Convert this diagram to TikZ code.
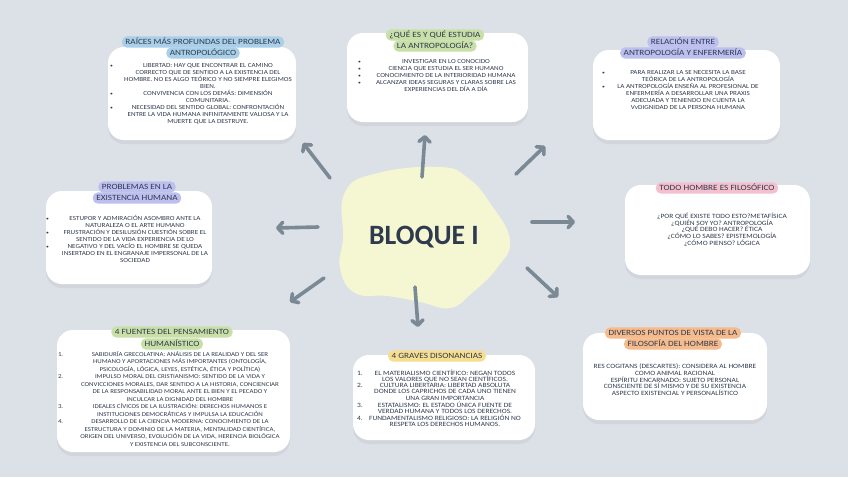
\documentclass[tikz,border=0pt]{standalone}
\usepackage{fontspec}
\usepackage{array}
\setmainfont{Carlito}[FakeStretch=1.15]
\usetikzlibrary{arrows.meta,shadows}
\definecolor{bg}{HTML}{DCE0E7}
\definecolor{ink}{HTML}{2F3A4F}
\definecolor{arrowc}{HTML}{7B8995}
\definecolor{blobc}{HTML}{F5F7D3}
\definecolor{lblue}{HTML}{A9D0E8}
\definecolor{lgreen}{HTML}{C8E0A8}
\definecolor{lpurple}{HTML}{BDBFEE}
\definecolor{lpink}{HTML}{F4C0CD}
\definecolor{lyellow}{HTML}{F6DE8E}
\definecolor{lorange}{HTML}{F6BB8C}
\newcommand{\bfnt}{\fontsize{6.2}{6.8}\selectfont}
\newcommand{\bul}{\raisebox{0.3pt}{\scalebox{0.8}{•}}}
\newcommand{\nl}{\par}
\tikzset{
  card/.style={fill=white, rounded corners=16pt, inner sep=0pt,
    drop shadow={opacity=0.10, shadow xshift=0pt, shadow yshift=-4pt}},
  pill/.style={fill=#1, rounded corners=5pt, inner xsep=3.5pt, inner ysep=2pt,
    text height=5.8pt, text depth=1.4pt, text=ink, font=\fontsize{8}{9}\selectfont},
  body/.style={anchor=north, inner sep=0pt, text=ink, font=\bfnt},
  ray/.style={draw=arrowc, line width=3.6pt, line cap=round,
    -{Straight Barb[length=5pt,width=11pt,round]}}
}
\begin{document}
\begin{tikzpicture}[x=1pt,y=-1pt]
\fill[bg] (0,0) rectangle (848,477);
\useasboundingbox (0,0) rectangle (848,477);

% cards
\node[card, minimum width=188pt, minimum height=93pt] (c1) at (202,93.5) {};
\node[card, minimum width=181pt, minimum height=89pt] (c2) at (437.5,77.5) {};
\node[card, minimum width=187pt, minimum height=90pt] (c3) at (686.5,95) {};
\node[card, minimum width=166pt, minimum height=93pt] (c4) at (129,237.5) {};
\node[card, minimum width=185pt, minimum height=90pt] (c5) at (717.5,230) {};
\node[card, minimum width=233pt, minimum height=122pt] (c6) at (173.5,391) {};
\node[card, minimum width=182pt, minimum height=85pt] (c7) at (444,397.5) {};
\node[card, minimum width=184pt, minimum height=87pt] (c8) at (675,376.5) {};

% labels
\node[pill=lblue] (l1a) at (203,42) {RAÍCES MÁS PROFUNDAS DEL PROBLEMA};
\node[pill=lblue] (l1b) at (203,53) {ANTROPOLÓGICO};
\node[pill=lgreen] (l2a) at (435,35) {¿QUÉ ES Y QUÉ ESTUDIA};
\node[pill=lgreen] (l2b) at (435,46) {LA ANTROPOLOGÍA?};
\node[pill=lpurple] (l3a) at (683,42) {RELACIÓN ENTRE};
\node[pill=lpurple] (l3b) at (683,53) {ANTROPOLOGÍA Y ENFERMERÍA};
\node[pill=lpurple] (l4a) at (137,187) {PROBLEMAS EN LA};
\node[pill=lpurple] (l4b) at (137,198) {EXISTENCIA HUMANA};
\node[pill=lpink] (l5) at (717,188) {TODO HOMBRE ES FILOSÓFICO};
\node[pill=lgreen] (l6a) at (172,332) {4 FUENTES DEL PENSAMIENTO};
\node[pill=lgreen] (l6b) at (172,344) {HUMANÍSTICO};
\node[pill=lyellow] (l7) at (437,356) {4 GRAVES DISONANCIAS};
\node[pill=lorange] (l8a) at (673,333) {DIVERSOS PUNTOS DE VISTA DE LA};
\node[pill=lorange] (l8b) at (673,344) {FILOSOFÍA DEL HOMBRE};

% bodies
\node[body] (t1) at (204,63) {\begin{tabular}{@{}p{8pt}@{}>{\centering\arraybackslash}p{180pt}@{}}
\bul & LIBERTAD: HAY QUE ENCONTRAR EL CAMINO\nl CORRECTO QUE DE SENTIDO A LA EXISTENCIA DEL\nl HOMBRE. NO ES ALGO TEÓRICO Y NO SIEMPRE ELEGIMOS\nl BIEN.\\
\bul & CONVIVENCIA CON LOS DEMÁS: DIMENSIÓN\nl COMUNITARIA.\\
\bul & NECESIDAD DEL SENTIDO GLOBAL: CONFRONTACIÓN\nl ENTRE LA VIDA HUMANA INFINITAMENTE VALIOSA Y LA\nl MUERTE QUE LA DESTRUYE.
\end{tabular}};

\node[body] (t2) at (442,59) {\begin{tabular}{@{}p{8pt}@{}>{\centering\arraybackslash}p{160pt}@{}}
\bul & INVESTIGAR EN LO CONOCIDO\\
\bul & CIENCIA QUE ESTUDIA EL SER HUMANO\\
\bul & CONOCIMIENTO DE LA INTERIORIDAD HUMANA\\
\bul & ALCANZAR IDEAS SEGURAS Y CLARAS SOBRE LAS\nl EXPERIENCIAS DEL DÍA A DÍA
\end{tabular}};

\node[body] (t3) at (684,70) {\begin{tabular}{@{}p{8pt}@{}>{\centering\arraybackslash}p{156pt}@{}}
\bul & PARA REALIZAR LA SE NECESITA LA BASE\nl TEÓRICA DE LA ANTROPOLOGÍA\\[6pt]
\bul & LA ANTROPOLOGÍA ENSEÑA AL PROFESIONAL DE\nl ENFERMERÍA A DESARROLLAR UNA PRAXIS\nl ADECUADA Y TENIENDO EN CUENTA LA\nl VvDIGNIDAD DE LA PERSONA HUMANA
\end{tabular}};

\node[body] (t4) at (131,215) {\begin{tabular}{@{}p{8pt}@{}>{\centering\arraybackslash}p{162pt}@{}}
\bul & ESTUPOR Y ADMIRACIÓN ASOMBRO ANTE LA\nl NATURALEZA O EL ARTE HUMANO\\
\bul & FRUSTRACIÓN Y DESILUSIÓN CUESTIÓN SOBRE EL\nl SENTIDO DE LA VIDA EXPERIENCIA DE LO\\
\bul & NEGATIVO Y DEL VACÍO EL HOMBRE SE QUEDA\nl INSERTADO EN EL ENGRANAJE IMPERSONAL DE LA\nl SOCIEDAD
\end{tabular}};

\node[body, align=center, font=\fontsize{6.5}{6.6}\selectfont] (t5) at (722,213) {¿POR QUÉ EXISTE TODO ESTO?METAFÍSICA\\ ¿QUIÉN SOY YO? ANTROPOLOGÍA\\ ¿QUÉ DEBO HACER? ÉTICA\\ ¿CÓMO LO SABES? EPISTEMOLOGÍA\\ ¿CÓMO PIENSO? LÓGICA};

\node[body, font=\fontsize{6.0}{7.5}\selectfont] (t6) at (174,351) {\begin{tabular}{@{}p{12pt}@{}>{\centering\arraybackslash}p{220pt}@{}}
1. & SABIDURÍA GRECOLATINA: ANÁLISIS DE LA REALIDAD Y DEL SER\nl HUMANO Y APORTACIONES MÁS IMPORTANTES (ONTOLOGÍA,\nl PSICOLOGÍA, LÓGICA, LEYES, ESTÉTICA, ÉTICA Y POLÍTICA)\\
2. & IMPULSO MORAL DEL CRISTIANISMO: SENTIDO DE LA VIDA Y\nl CONVICCIONES MORALES, DAR SENTIDO A LA HISTORIA, CONCIENCIAR\nl DE LA RESPONSABILIDAD MORAL ANTE EL BIEN Y EL PECADO Y\nl INCULCAR LA DIGNIDAD DEL HOMBRE\\
3. & IDEALES CÍVICOS DE LA ILUSTRACIÓN: DERECHOS HUMANOS E\nl INSTITUCIONES DEMOCRÁTICAS Y IMPULSA LA EDUCACIÓN\\
4. & DESARROLLO DE LA CIENCIA MODERNA: CONOCIMIENTO DE LA\nl ESTRUCTURA Y DOMINIO DE LA MATERIA, MENTALIDAD CIENTÍFICA,\nl ORIGEN DEL UNIVERSO, EVOLUCIÓN DE LA VIDA, HERENCIA BIOLÓGICA\nl Y EXISTENCIA DEL SUBCONSCIENTE.
\end{tabular}};

\node[body, font=\fontsize{6.5}{6.1}\selectfont] (t7) at (440,370) {\begin{tabular}{@{}p{10pt}@{}>{\centering\arraybackslash}p{156pt}@{}}
1. & EL MATERIALISMO CIENTÍFICO: NEGAN TODOS\nl LOS VALORES QUE NO SEAN CIENTÍFICOS.\\
2. & CULTURA LIBERTARIA: LIBERTAD ABSOLUTA\nl DONDE LOS CAPRICHOS DE CADA UNO TIENEN\nl UNA GRAN IMPORTANCIA\\
3. & ESTATALISMO: EL ESTADO ÚNICA FUENTE DE\nl VERDAD HUMANA Y TODOS LOS DERECHOS.\\
4. & FUNDAMENTALISMO RELIGIOSO: LA RELIGIÓN NO\nl RESPETA LOS DERECHOS HUMANOS.
\end{tabular}};

\node[body, align=center, font=\fontsize{6.5}{6.6}\selectfont] (t8) at (675,364) {RES COGITANS (DESCARTES): CONSIDERA AL HOMBRE\\ COMO ANIMAL RACIONAL\\ ESPÍRITU ENCARNADO: SUJETO PERSONAL\\ CONSCIENTE DE SÍ MISMO Y DE SU EXISTENCIA\\ ASPECTO EXISTENCIAL Y PERSONALÍSTICO};

% central blob
\fill[blobc] plot[smooth cycle, tension=0.75] coordinates {
 (345,192) (378,173) (440,167) (468,178) (490,203) (510,240)
 (497,268) (472,293) (450,308) (420,302) (388,296) (355,293)
 (340,268) (343,238)};
\node[text=ink, font=\fontsize{28}{30}\selectfont\bfseries, xscale=0.86] (center) at (424,237) {BLOQUE I};

% arrows
\coordinate (s1) at (330,178); \coordinate (e1) at (303,143);
\coordinate (s2) at (422,177); \coordinate (e2) at (425,135);
\coordinate (s3) at (516,174); \coordinate (e3) at (545,146);
\coordinate (s4) at (532,222); \coordinate (e4) at (575,222);
\coordinate (s5) at (527,268); \coordinate (e5) at (558,297);
\coordinate (s6) at (415,287); \coordinate (e6) at (418,327);
\coordinate (s7) at (318,227); \coordinate (e7) at (276,228);
\coordinate (s8) at (324,278); \coordinate (e8) at (290,302);
\foreach \i in {1,...,8} \draw[ray] (s\i) -- (e\i);
\end{tikzpicture}
\end{document}
